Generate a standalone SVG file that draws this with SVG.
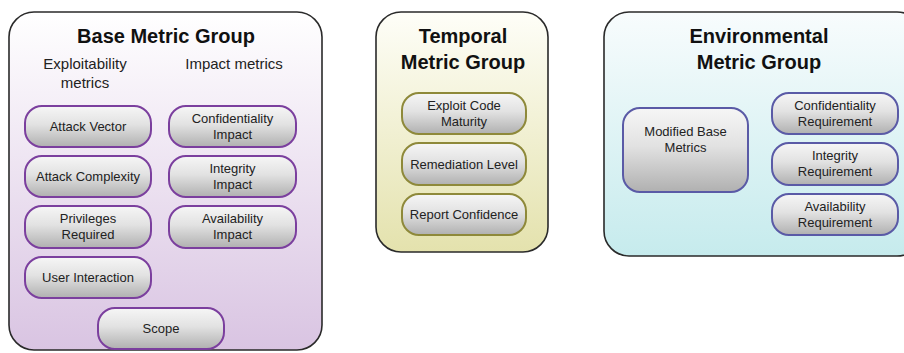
<svg xmlns="http://www.w3.org/2000/svg" width="904" height="353" viewBox="0 0 904 353">
  <defs>
    <linearGradient id="gBase" x1="0" y1="0" x2="0" y2="1">
      <stop offset="0" stop-color="#ffffff"/>
      <stop offset="1" stop-color="#d9c4e2"/>
    </linearGradient>
    <linearGradient id="gTemp" x1="0" y1="0" x2="0" y2="1">
      <stop offset="0" stop-color="#fefef8"/>
      <stop offset="1" stop-color="#e4e2ad"/>
    </linearGradient>
    <linearGradient id="gEnv" x1="0" y1="0" x2="0" y2="1">
      <stop offset="0" stop-color="#f8fcfd"/>
      <stop offset="1" stop-color="#c6ebed"/>
    </linearGradient>
    <linearGradient id="gNode" x1="0" y1="0" x2="0" y2="1">
      <stop offset="0" stop-color="#f6f6f6"/>
      <stop offset="0.45" stop-color="#e2e2e2"/>
      <stop offset="1" stop-color="#b0b0b0"/>
    </linearGradient>
  </defs>
  <style>
    .group { stroke: #2a2a2a; stroke-width: 1.6; }
    .title { font-family: "Liberation Sans", Arial, sans-serif; font-size: 20px; font-weight: bold; fill: #111; text-anchor: middle; }
    .sub { font-family: "Liberation Sans", Arial, sans-serif; font-size: 15px; fill: #222; text-anchor: middle; }
    .node rect { fill: url(#gNode); stroke-width: 2; }
    .node text { font-family: "Liberation Sans", Arial, sans-serif; font-size: 13px; fill: #222; text-anchor: middle; }
    .b rect { stroke: #7b3f9e; }
    .t rect { stroke: #8e893a; }
    .e rect { stroke: #5a5aa6; }
  </style>

  <!-- Base Metric Group -->
  <g id="base-group">
    <rect class="group" x="9" y="12" width="313" height="338" rx="25" fill="url(#gBase)"/>
    <text class="title" x="166" y="43">Base Metric Group</text>
    <text class="sub" x="85" y="69">Exploitability</text>
    <text class="sub" x="85" y="88">metrics</text>
    <text class="sub" x="234" y="69">Impact metrics</text>
  </g>
  <g id="attack-vector" class="node b">
    <rect x="25" y="106" width="126" height="41" rx="17"/>
    <text x="88" y="131">Attack Vector</text>
  </g>
  <g id="attack-complexity" class="node b">
    <rect x="25" y="156" width="126" height="41" rx="17"/>
    <text x="88" y="181">Attack Complexity</text>
  </g>
  <g id="privileges-required" class="node b">
    <rect x="25" y="206" width="126" height="42" rx="17"/>
    <text x="88" y="223">Privileges</text>
    <text x="88" y="239">Required</text>
  </g>
  <g id="user-interaction" class="node b">
    <rect x="25" y="257" width="126" height="41" rx="17"/>
    <text x="88" y="282">User Interaction</text>
  </g>
  <g id="confidentiality-impact" class="node b">
    <rect x="169" y="106" width="127" height="41" rx="17"/>
    <text x="232.5" y="123">Confidentiality</text>
    <text x="232.5" y="139">Impact</text>
  </g>
  <g id="integrity-impact" class="node b">
    <rect x="169" y="156" width="127" height="41" rx="17"/>
    <text x="232.5" y="173">Integrity</text>
    <text x="232.5" y="189">Impact</text>
  </g>
  <g id="availability-impact" class="node b">
    <rect x="169" y="206" width="127" height="42" rx="17"/>
    <text x="232.5" y="223">Availability</text>
    <text x="232.5" y="239">Impact</text>
  </g>
  <g id="scope" class="node b">
    <rect x="98" y="308" width="126" height="41" rx="17"/>
    <text x="161" y="333">Scope</text>
  </g>

  <!-- Temporal Metric Group -->
  <g id="temporal-group">
    <rect class="group" x="376" y="12" width="172" height="240" rx="25" fill="url(#gTemp)"/>
    <text class="title" x="463" y="43">Temporal</text>
    <text class="title" x="463" y="69">Metric Group</text>
  </g>
  <g id="exploit-code-maturity" class="node t">
    <rect x="402" y="93" width="124" height="41" rx="17"/>
    <text x="464" y="110">Exploit Code</text>
    <text x="464" y="126">Maturity</text>
  </g>
  <g id="remediation-level" class="node t">
    <rect x="402" y="143" width="124" height="42" rx="17"/>
    <text x="464" y="169">Remediation Level</text>
  </g>
  <g id="report-confidence" class="node t">
    <rect x="402" y="194" width="124" height="41" rx="17"/>
    <text x="464" y="219">Report Confidence</text>
  </g>

  <!-- Environmental Metric Group -->
  <g id="environmental-group">
    <rect class="group" x="604" y="12" width="318" height="244" rx="25" fill="url(#gEnv)"/>
    <text class="title" x="759" y="43">Environmental</text>
    <text class="title" x="759" y="69">Metric Group</text>
  </g>
  <g id="modified-base-metrics" class="node e">
    <rect x="623" y="108" width="125" height="84" rx="17"/>
    <text x="685.5" y="136">Modified Base</text>
    <text x="685.5" y="152">Metrics</text>
  </g>
  <g id="confidentiality-requirement" class="node e">
    <rect x="772" y="93" width="126" height="41" rx="17"/>
    <text x="835" y="110">Confidentiality</text>
    <text x="835" y="126">Requirement</text>
  </g>
  <g id="integrity-requirement" class="node e">
    <rect x="772" y="143" width="126" height="42" rx="17"/>
    <text x="835" y="160">Integrity</text>
    <text x="835" y="176">Requirement</text>
  </g>
  <g id="availability-requirement" class="node e">
    <rect x="772" y="194" width="126" height="41" rx="17"/>
    <text x="835" y="211">Availability</text>
    <text x="835" y="227">Requirement</text>
  </g>

  <!-- no connectors between the metric boxes -->
  <g id="connectors"/>
</svg>
